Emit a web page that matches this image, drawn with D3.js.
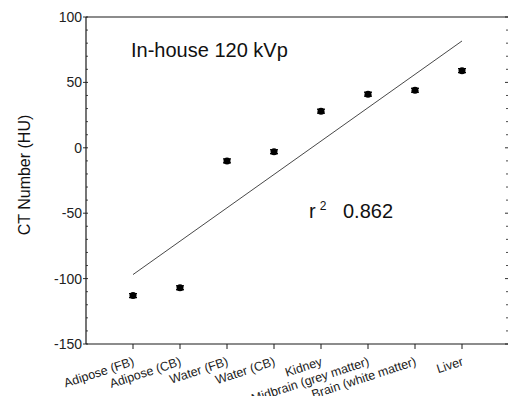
<!DOCTYPE html>
<html>
<head>
<meta charset="utf-8">
<script src="https://cdn.jsdelivr.net/npm/d3@7"></script>
<style>
  html, body { margin: 0; padding: 0; background: #fff; }
  svg { display: block; font-family: "Liberation Sans", Arial, sans-serif; }
</style>
</head>
<body>
<svg id="chart" width="508" height="396"></svg>
<script>
// Tissue / material categories along the x axis
const categories = [
  "Adipose (FB)", "Adipose (CB)", "Water (FB)", "Water (CB)",
  "Kidney", "Midbrain (grey matter)", "Brain (white matter)", "Liver"
];
// Mean CT number (HU) for each category
const ctValues = [-113, -107, -10, -3, 28, 41, 44, 59];
// Standard deviation of each measurement (HU)
const ctErrors = [1.5, 1.5, 1.5, 1.5, 1.5, 1.5, 1.5, 1.5];
// Axis ticks
const yMajorTicks = [100, 50, 0, -50, -100, -150];
const yMinorTicks = d3.range(-150, 101, 10);
const titleText = "In-house 120 kVp";
const rSquaredText = "0.862";

const svg = d3.select("#chart");
const plot = { left: 86, right: 509, top: 17, bottom: 344 };

const x = d3.scaleLinear().domain([0, categories.length + 1]).range([plot.left, plot.right]);
const y = d3.scaleLinear().domain([-150, 100]).range([plot.bottom, plot.top]);

const ink = "#1a1a1a";

// Frame: top line
svg.append("line").attr("x1", plot.left).attr("x2", plot.right)
  .attr("y1", plot.top).attr("y2", plot.top).attr("stroke", ink).attr("stroke-width", 1.2);

// Left axis
const leftAxis = svg.append("g").attr("transform", `translate(${plot.left},0)`);
leftAxis.append("line").attr("y1", plot.top).attr("y2", plot.bottom)
  .attr("stroke", ink).attr("stroke-width", 1.2);
leftAxis.selectAll("line.minor").data(yMinorTicks.filter(v => v % 50 !== 0)).join("line")
  .attr("class", "minor").attr("x1", 0).attr("x2", 2)
  .attr("y1", d => y(d)).attr("y2", d => y(d)).attr("stroke", ink).attr("stroke-width", 0.8);
leftAxis.selectAll("line.major").data(yMajorTicks).join("line")
  .attr("class", "major").attr("x1", -3).attr("x2", 2)
  .attr("y1", d => y(d)).attr("y2", d => y(d)).attr("stroke", ink).attr("stroke-width", 0.9);
leftAxis.selectAll("text").data(yMajorTicks).join("text")
  .attr("x", -4).attr("y", d => y(d)).attr("dy", "0.36em")
  .attr("text-anchor", "end").attr("font-size", 14).attr("fill", "#222")
  .text(d => d);

// Right axis (ticks pointing inward)
const rightAxis = svg.append("g").attr("transform", `translate(${plot.right},0)`);
rightAxis.append("line").attr("y1", plot.top).attr("y2", plot.bottom)
  .attr("stroke", ink).attr("stroke-width", 1.2);
rightAxis.selectAll("line.minor").data(yMinorTicks.filter(v => v % 50 !== 0)).join("line")
  .attr("class", "minor").attr("x1", -3).attr("x2", 0)
  .attr("y1", d => y(d)).attr("y2", d => y(d)).attr("stroke", ink).attr("stroke-width", 0.8);
rightAxis.selectAll("line.major").data(yMajorTicks).join("line")
  .attr("class", "major").attr("x1", -4).attr("x2", 0)
  .attr("y1", d => y(d)).attr("y2", d => y(d)).attr("stroke", ink).attr("stroke-width", 0.9);

// Bottom axis with category ticks
const bottomAxis = svg.append("g").attr("transform", `translate(0,${plot.bottom})`);
bottomAxis.append("line").attr("x1", plot.left).attr("x2", plot.right)
  .attr("stroke", ink).attr("stroke-width", 1.2);
bottomAxis.selectAll("line.tick").data(categories).join("line")
  .attr("class", "tick").attr("x1", (d, i) => x(i + 1)).attr("x2", (d, i) => x(i + 1))
  .attr("y1", 0).attr("y2", 5).attr("stroke", ink).attr("stroke-width", 1);
bottomAxis.selectAll("text").data(categories).join("text")
  .attr("transform", (d, i) => `translate(${x(i + 1) + 2},21) rotate(-18)`)
  .attr("text-anchor", "end").attr("font-size", 12.5).attr("fill", "#222")
  .text(d => d);

// Y axis title
svg.append("text")
  .attr("transform", `translate(30,175) rotate(-90)`)
  .attr("text-anchor", "middle").attr("font-size", 16).attr("fill", "#111")
  .text("CT Number (HU)");

// Least-squares fit of CT number against category index
const xs = ctValues.map((v, i) => i + 1);
const mx = d3.mean(xs), my = d3.mean(ctValues);
const slope = d3.sum(xs, (xi, i) => (xi - mx) * (ctValues[i] - my)) / d3.sum(xs, xi => (xi - mx) ** 2);
const intercept = my - slope * mx;
const fitEnds = [1, categories.length];
svg.append("line")
  .attr("x1", x(fitEnds[0])).attr("y1", y(intercept + slope * fitEnds[0]))
  .attr("x2", x(fitEnds[1])).attr("y2", y(intercept + slope * fitEnds[1]))
  .attr("stroke", "#333").attr("stroke-width", 0.9);

// Data points with error bars
const pts = svg.append("g");
ctValues.forEach((v, i) => {
  const cx = x(i + 1);
  const e = ctErrors[i];
  pts.append("line").attr("x1", cx).attr("x2", cx).attr("y1", y(v - e)).attr("y2", y(v + e))
    .attr("stroke", "#000").attr("stroke-width", 1);
  [v - e, v + e].forEach(c => {
    pts.append("line").attr("x1", cx - 4).attr("x2", cx + 4).attr("y1", y(c)).attr("y2", y(c))
      .attr("stroke", "#000").attr("stroke-width", 1.3);
  });
  pts.append("circle").attr("cx", cx).attr("cy", y(v)).attr("r", 3.5).attr("fill", "#000");
});

// Annotations
svg.append("text").attr("x", 131).attr("y", 57)
  .attr("font-size", 20).attr("fill", "#111").text(titleText);

const r2 = svg.append("text").attr("x", 309).attr("y", 218).attr("font-size", 20).attr("fill", "#111");
r2.append("tspan").text("r");
r2.append("tspan").attr("font-size", 12).attr("dx", 4).attr("dy", -8).text("2");
r2.append("tspan").attr("x", 343).attr("dy", 8).text(rSquaredText);
</script>
</body>
</html>
